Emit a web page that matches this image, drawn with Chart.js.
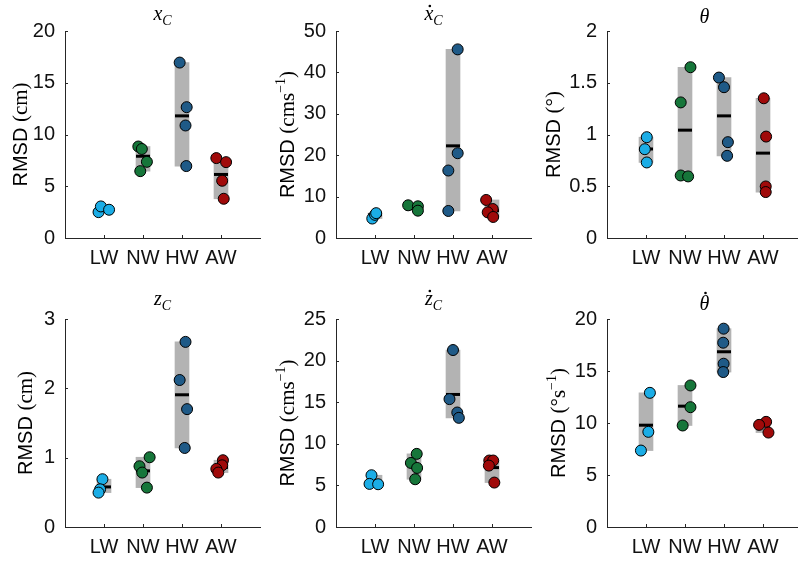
<!DOCTYPE html>
<html>
<head>
<meta charset="utf-8">
<script src="https://cdn.jsdelivr.net/npm/chart.js@4/dist/chart.umd.min.js"></script>
<style>
html, body { margin: 0; padding: 0; background: #fff; overflow: hidden; width: 798px; height: 562px; }
canvas { position: absolute; }
</style>
</head>
<body>
<canvas id="c0"></canvas>
<canvas id="c1"></canvas>
<canvas id="c2"></canvas>
<canvas id="c3"></canvas>
<canvas id="c4"></canvas>
<canvas id="c5"></canvas>
<script>
const groups = ['LW', 'NW', 'HW', 'AW'];

// x_C
const xcVals = [[2.5, 3.05, 2.73], [8.84, 8.6, 7.36, 6.46], [16.95, 12.64, 10.87, 6.95], [7.72, 7.33, 5.53, 3.79]];
const xcJit = [[-0.14, -0.08, 0.13], [-0.12, -0.03, 0.1, -0.07], [-0.06, 0.12, 0.09, 0.11], [-0.12, 0.13, 0.03, 0.07]];
const xcMed = [2.73, 7.9, 11.8, 6.14];
const xcTicks = [0, 5, 10, 15, 20];

// x_C dot
const xdVals = [[4.7, 5.6, 6.0], [7.9, 7.66, 6.6], [45.56, 20.48, 16.3, 6.53], [9.19, 7.0, 6.2, 5.08]];
const xdJit = [[-0.07, 0.0, 0.03], [-0.15, 0.1, 0.1], [0.12, 0.12, -0.12, -0.12], [-0.15, 0.02, -0.11, 0.03]];
const xdMed = [5.6, 7.66, 22.26, 6.6];
const xdTicks = [0, 10, 20, 30, 40, 50];

// theta
const thVals = [[0.974, 0.858, 0.73], [1.65, 1.31, 0.604, 0.595], [1.55, 1.457, 0.926, 0.794], [1.35, 0.98, 0.498, 0.444]];
const thJit = [[0.02, -0.03, 0.02], [0.14, -0.11, -0.11, 0.08], [-0.13, 0.0, 0.1, 0.08], [0.02, 0.08, 0.07, 0.07]];
const thMed = [0.86, 1.042, 1.18, 0.82];
const thTicks = [0, 0.5, 1, 1.5, 2];

// z_C
const zcVals = [[0.689, 0.544, 0.496], [1.006, 0.876, 0.785, 0.568], [2.67, 2.12, 1.70, 1.14], [0.963, 0.89, 0.838, 0.785]];
const zcJit = [[-0.04, -0.1, -0.14], [0.17, -0.09, -0.02, 0.1], [0.09, -0.06, 0.13, 0.07], [0.05, 0.03, -0.12, -0.07]];
const zcMed = [0.578, 0.81, 1.907, 0.86];
const zcTicks = [0, 1, 2, 3];

// z_C dot
const zdVals = [[6.22, 5.18, 5.14], [8.79, 7.7, 7.1, 5.74], [21.27, 15.37, 13.76, 13.12], [7.99, 7.99, 7.38, 5.34]];
const zdJit = [[-0.09, -0.14, 0.08], [0.07, -0.08, 0.08, 0.03], [0.0, -0.09, 0.11, 0.15], [-0.07, 0.03, -0.08, 0.06]];
const zdMed = [5.2, 7.4, 15.93, 7.14];
const zdTicks = [0, 5, 10, 15, 20, 25];

// theta dot
const tdVals = [[12.9, 9.15, 7.35], [13.61, 11.52, 9.76], [19.07, 17.72, 15.7, 14.9], [10.11, 9.82, 9.08]];
const tdJit = [[0.1, 0.06, -0.13], [0.14, 0.14, -0.06], [-0.01, -0.02, -0.01, -0.02], [0.08, -0.1, 0.14]];
const tdMed = [9.79, 11.62, 16.85, 9.8];
const tdTicks = [0, 5, 10, 15, 20];

const groupColors = ['#1badE6', '#16763a', '#1f5a87', '#a00a0a'];
const sans = '"Liberation Sans", Arial, sans-serif';
const serif = '"Liberation Serif", "Times New Roman", serif';

const colLeft = [0, 271, 542];
const rowTop = [0, 280];
const rowH = [280, 282];
const rowPadTop = [31, 39];
const rowXH = [42, 35];

const panels = [
    { id: 'c0', col: 0, row: 0, vals: xcVals, jit: xcJit, med: xcMed, ticks: xcTicks,
      title: { b: 'x', s: 'C', dot: false, y: 20 }, unit: [['(cm)', 0]], labelX: -38 },
    { id: 'c1', col: 1, row: 0, vals: xdVals, jit: xdJit, med: xdMed, ticks: xdTicks,
      title: { b: 'x', s: 'C', dot: true, y: 20 }, unit: [['(cms', 0], ['\u22121', 1], [')', 0]], labelX: -42 },
    { id: 'c2', col: 2, row: 0, vals: thVals, jit: thJit, med: thMed, ticks: thTicks,
      title: { b: '\u03b8', s: '', dot: false, y: 23 }, unit: [['(\u00b0)', 0]], labelX: -47 },
    { id: 'c3', col: 0, row: 1, vals: zcVals, jit: zcJit, med: zcMed, ticks: zcTicks,
      title: { b: 'z', s: 'C', dot: false, y: 25 }, unit: [['(cm)', 0]], labelX: -33 },
    { id: 'c4', col: 1, row: 1, vals: zdVals, jit: zdJit, med: zdMed, ticks: zdTicks,
      title: { b: 'z', s: 'C', dot: true, y: 25 }, unit: [['(cms', 0], ['\u22121', 1], [')', 0]], labelX: -42 },
    { id: 'c5', col: 2, row: 1, vals: tdVals, jit: tdJit, med: tdMed, ticks: tdTicks,
      title: { b: '\u03b8', s: '', dot: true, y: 30 }, unit: [['(\u00b0s', 0], ['\u22121', 1], [')', 0]], labelX: -42 }
];

// inward tick marks, MATLAB style
const inTicks = {
    id: 'inTicks',
    afterDraw(chart) {
        const { ctx, chartArea: a, scales: { x, y } } = chart;
        ctx.save();
        ctx.strokeStyle = '#262626';
        ctx.lineWidth = 1;
        ctx.beginPath();
        x.ticks.forEach(t => {
            const px = Math.round(x.getPixelForValue(t.value)) + 0.5;
            ctx.moveTo(px, a.bottom);
            ctx.lineTo(px, a.bottom - 3);
        });
        y.ticks.forEach(t => {
            const py = Math.round(y.getPixelForValue(t.value)) + 0.5;
            ctx.moveTo(a.left, py);
            ctx.lineTo(a.left + 3, py);
        });
        ctx.stroke();
        ctx.restore();
    }
};

// title and y label with mixed fonts
const labels = {
    id: 'labels',
    afterDraw(chart, args, opts) {
        const p = opts.panel;
        const { ctx, chartArea: a } = chart;
        ctx.save();
        ctx.fillStyle = '#000';
        ctx.textBaseline = 'alphabetic';

        // title
        const bFont = 'italic 20px ' + serif;
        const sFont = 'italic 14px ' + serif;
        ctx.font = bFont;
        const bw = ctx.measureText(p.title.b).width;
        ctx.font = sFont;
        const sw = p.title.s ? ctx.measureText(p.title.s).width : 0;
        const tx = (a.left + a.right) / 2 - (bw + sw) / 2;
        const ty = p.title.y;
        ctx.font = bFont;
        ctx.fillText(p.title.b, tx, ty);
        if (p.title.s) {
            ctx.font = sFont;
            ctx.fillText(p.title.s, tx + bw, ty + 5);
        }
        if (p.title.dot) {
            const dy = p.title.b === '\u03b8' ? ty - 17 : ty - 14;
            ctx.beginPath();
            ctx.arc(tx + bw / 2 + 1, dy, 1.3, 0, Math.PI * 2);
            ctx.fill();
        }

        // y label
        const segs = [['RMSD ', 'sans'], ...p.unit.map(u => [u[0], u[1] ? 'sup' : 'serif'])];
        const fonts = { sans: '20px ' + sans, serif: '21px ' + serif, sup: '14px ' + serif };
        let total = 0;
        const widths = segs.map(s => {
            ctx.font = fonts[s[1]];
            const w = ctx.measureText(s[0]).width;
            total += w;
            return w;
        });
        ctx.translate(a.left + p.labelX, (a.top + a.bottom) / 2);
        ctx.rotate(-Math.PI / 2);
        let cx = -total / 2;
        segs.forEach((s, i) => {
            ctx.font = fonts[s[1]];
            ctx.fillText(s[0], cx, s[1] === 'sup' ? -9 : 0);
            cx += widths[i];
        });
        ctx.restore();
    }
};

function makeChart(p) {
    const cv = document.getElementById(p.id);
    cv.width = 270;
    cv.height = rowH[p.row];
    cv.style.left = colLeft[p.col] + 'px';
    cv.style.top = rowTop[p.row] + 'px';

    const bars = p.vals.map((v, i) => ({ x: i + 1, y: [Math.min(...v), Math.max(...v)] }));
    const meds = p.med.map((m, i) => ({ x: i + 1, y: m }));
    const datasets = [
        { type: 'bar', data: bars, backgroundColor: '#b3b3b3', barThickness: 14, order: 3 },
        { type: 'scatter', data: meds, pointStyle: 'line', pointRadius: 7, pointHoverRadius: 7,
          borderColor: '#000', borderWidth: 3, order: 2 }
    ];
    p.vals.forEach((v, i) => {
        datasets.push({
            type: 'scatter',
            data: v.map((y, k) => ({ x: i + 1 + p.jit[i][k], y: y })),
            backgroundColor: groupColors[i],
            borderColor: '#000',
            borderWidth: 1,
            pointRadius: 5.5,
            order: 1
        });
    });

    const tickFont = { family: sans, size: 20 };
    new Chart(cv, {
        type: 'scatter',
        data: { datasets: datasets },
        options: {
            responsive: false,
            animation: false,
            devicePixelRatio: 1,
            layout: { padding: { left: 15, right: 5, top: rowPadTop[p.row], bottom: 0 } },
            plugins: { legend: { display: false }, tooltip: { enabled: false }, labels: { panel: p } },
            scales: {
                x: {
                    type: 'linear', min: 0, max: 5, offset: false,
                    afterBuildTicks: s => { s.ticks = groups.map((g, i) => ({ value: i + 1 })); },
                    afterFit: s => { s.height = rowXH[p.row]; },
                    ticks: { callback: v => groups[v - 1], font: tickFont, color: '#111', padding: 8,
                             maxRotation: 0, autoSkip: false },
                    grid: { display: false, drawTicks: false },
                    border: { display: true, color: '#262626', width: 1 }
                },
                y: {
                    type: 'linear', min: 0, max: p.ticks[p.ticks.length - 1],
                    afterBuildTicks: s => { s.ticks = p.ticks.map(v => ({ value: v })); },
                    afterFit: s => { s.width = 50; },
                    ticks: { callback: v => String(v), font: tickFont, color: '#111', padding: 10 },
                    grid: { display: false, drawTicks: false },
                    border: { display: true, color: '#262626', width: 1 }
                }
            }
        },
        plugins: [inTicks, labels]
    });
}

panels.forEach(makeChart);
</script>
</body>
</html>
